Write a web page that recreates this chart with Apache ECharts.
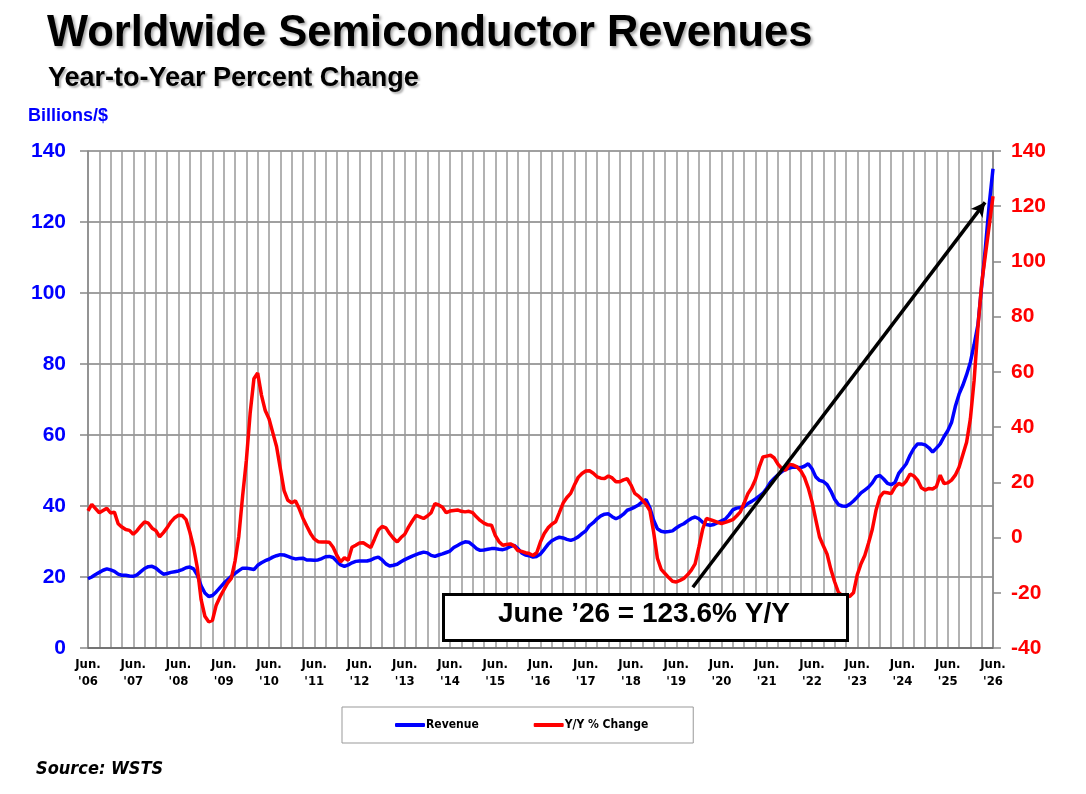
<html>
<head>
<meta charset="utf-8">
<script src="https://cdn.jsdelivr.net/npm/echarts@6/dist/echarts.min.js"></script>
<style>
    html, body { margin: 0; padding: 0; background: #fff; }
    #main { width: 1086px; height: 794px; }
</style>
</head>
<body>
<div id="main"></div>
<script>
    // monthly, Jun '06 .. Jun '26
    var revenue = [
        19.5, 20.0, 20.7, 21.3, 21.9, 22.3, 22.0, 21.6, 20.8, 20.5, 20.5, 20.3,
        20.2, 20.6, 21.5, 22.4, 22.9, 23.0, 22.5, 21.6, 20.8, 21.0, 21.3, 21.5,
        21.7, 22.1, 22.6, 22.8, 22.3, 20.5, 17.5, 15.5, 14.5, 14.8, 15.8, 17.0,
        18.2, 19.2, 20.2, 21.0, 21.8, 22.5, 22.5, 22.3, 22.1, 23.3, 24.0, 24.6,
        25.0, 25.6, 26.0, 26.3, 26.2, 25.8, 25.4, 25.1, 25.2, 25.3, 24.8, 24.8,
        24.7, 24.8, 25.2, 25.7, 25.8, 25.5, 24.4, 23.4, 23.0, 23.4, 24.0, 24.4,
        24.5, 24.5, 24.5, 24.8, 25.3, 25.6, 24.8, 23.7, 23.1, 23.3, 23.6, 24.3,
        24.9, 25.4, 25.9, 26.3, 26.7, 27.0, 26.8, 26.1, 25.8, 26.2, 26.5, 26.9,
        27.3, 28.3, 28.9, 29.5, 29.9, 29.8, 29.0, 28.0, 27.5, 27.6, 27.8, 28.0,
        28.0, 27.8, 27.7, 28.0, 28.6, 28.9, 28.0, 26.8, 26.2, 26.0, 25.6, 25.8,
        26.5, 27.8, 29.2, 30.2, 30.8, 31.2, 31.0, 30.6, 30.3, 30.7, 31.3, 32.2,
        33.0, 34.5, 35.3, 36.4, 37.2, 37.7, 37.8, 37.0, 36.4, 36.9, 37.7, 38.8,
        39.2, 39.7, 40.3, 41.2, 41.8, 39.5, 36.0, 33.6, 32.9, 32.7, 32.8, 33.0,
        33.8, 34.5, 35.0, 35.8, 36.5, 36.9, 36.4, 35.4, 34.8, 34.6, 34.8, 35.3,
        35.8, 36.3, 37.5, 38.9, 39.4, 39.6, 39.8, 40.7, 41.3, 42.0, 42.8, 43.6,
        45.0, 46.7, 47.8, 48.8, 49.7, 50.3, 50.7, 51.0, 50.9, 50.8, 51.2, 51.9,
        50.5, 48.2, 47.2, 46.9, 46.0, 44.2, 41.9, 40.4, 40.0, 39.9, 40.5, 41.4,
        42.5, 43.7, 44.5, 45.3, 46.5, 48.2, 48.6, 47.6, 46.4, 46.0, 46.6, 49.2,
        50.5, 51.9, 54.3, 56.2, 57.5, 57.5, 57.2, 56.4, 55.2, 56.3, 57.5, 59.5,
        61.2, 63.5, 68.0, 71.5, 74.0, 77.0, 80.5, 85.5, 91.0, 102.0, 113.0, 125.0,
        135.0
    ];

    var yoyChange = [
        9.7, 12.0, 10.5, 9.0, 9.8, 10.6, 8.9, 9.2, 5.0, 3.8, 2.9, 2.6,
        1.2, 2.5, 4.2, 5.7, 5.2, 3.4, 2.5, 0.3, 1.8, 3.6, 5.7, 7.2,
        8.1, 8.0, 6.5, 2.0, -3.5, -11.0, -22.5, -28.5, -30.5, -30.0, -24.5, -21.5,
        -19.0, -16.5, -14.8, -8.5, 0.5, 15.0, 28.0, 45.0, 57.5, 59.6, 51.6, 46.0,
        43.0, 38.0, 33.0, 25.0, 17.0, 13.5, 12.6, 13.3, 10.5, 7.0, 4.2, 1.5,
        -0.5, -1.5, -1.6, -1.6, -1.7, -3.5, -6.5, -8.8, -7.3, -8.2, -3.5, -2.8,
        -2.0, -1.9, -2.8, -3.6, -0.5, 2.7, 4.0, 3.5, 1.4, -0.3, -1.6, 0.0,
        1.2, 3.8, 6.0, 8.0, 7.5, 6.9, 7.8, 9.0, 12.3, 11.8, 11.0, 9.0,
        9.6, 9.8, 10.0, 9.5, 9.3, 9.5, 9.0, 7.5, 6.2, 5.2, 4.6, 4.5,
        0.8, -1.5, -2.8, -2.5, -2.3, -3.0, -4.7, -5.0, -5.5, -5.8, -6.5, -5.5,
        -1.5, 1.5, 3.5, 4.8, 5.7, 9.0, 12.5, 14.5, 16.0, 19.0, 21.8, 23.2,
        24.1, 24.2, 23.3, 22.0, 21.5, 21.4, 22.3, 21.6, 20.2, 20.2, 20.9, 21.3,
        19.0, 16.0, 15.0, 13.6, 12.0, 9.8, 2.0, -7.5, -11.5, -13.0, -14.5, -15.8,
        -16.1, -15.5, -14.8, -13.5, -11.8, -9.5, -3.5, 3.0, 6.9, 6.5, 6.0, 5.5,
        5.1, 5.5, 6.0, 6.5, 7.8, 9.3, 12.5, 15.9, 18.0, 21.0, 25.5, 29.2,
        29.5, 29.8, 28.8, 26.5, 25.0, 24.4, 26.5, 26.3, 25.6, 24.2, 21.8, 18.0,
        13.0, 6.5, 0.2, -3.0, -6.0, -11.5, -16.0, -19.8, -21.0, -21.5, -21.3, -20.0,
        -13.5, -9.5, -6.5, -2.0, 3.0, 10.0, 14.7, 16.4, 16.2, 15.9, 18.3, 19.6,
        19.0, 20.5, 23.0, 22.3, 20.8, 18.0, 17.2, 17.8, 17.6, 18.5, 22.6, 19.6,
        19.8, 20.8, 22.6, 25.5, 30.0, 34.5, 43.0, 57.0, 76.0, 92.0, 102.5, 113.0,
        123.6
    ];

    var yearLabels = ['06', '07', '08', '09', '10', '11', '12', '13', '14', '15', '16',
        '17', '18', '19', '20', '21', '22', '23', '24', '25', '26'];

    // arrow from the call-out box up to the last point (month index, Y/Y %)
    var arrowFrom = [160.4, -18];
    var arrowTo = [237.9, 121.4];

    var narrow = "'Liberation Sans Narrow', 'DejaVu Sans Condensed', 'Liberation Sans', sans-serif";
    var arial = "'Liberation Sans', Arial, sans-serif";

    var chart = echarts.init(document.getElementById('main'));

    var option = {
        animation: false,
        backgroundColor: '#fff',
        title: [{
            text: 'Worldwide Semiconductor Revenues',
            left: 42,
            top: 7,
            textStyle: {
                fontFamily: arial,
                fontSize: 43.5,
                fontWeight: 'bold',
                color: '#000',
                textShadowColor: 'rgba(0,0,0,0.35)',
                textShadowBlur: 3,
                textShadowOffsetX: 2,
                textShadowOffsetY: 2
            }
        }, {
            text: 'Year-to-Year Percent Change',
            left: 43,
            top: 60,
            textStyle: {
                fontFamily: arial,
                fontSize: 27,
                fontWeight: 'bold',
                color: '#000',
                textShadowColor: 'rgba(0,0,0,0.3)',
                textShadowBlur: 2,
                textShadowOffsetX: 2,
                textShadowOffsetY: 2
            }
        }],
        legend: {
            left: 342,
            top: 707,
            padding: [12, 45, 12, 53],
            itemGap: 55,
            itemWidth: 30,
            itemHeight: 4,
            borderColor: '#999',
            borderWidth: 1,
            icon: 'roundRect',
            textStyle: {
                fontFamily: narrow,
                fontSize: 12,
                fontWeight: 'bold',
                color: '#000',
                padding: [0, 0, 0, -4]
            },
            data: ['Revenue', 'Y/Y % Change']
        },
        grid: {
            left: 88,
            right: 93,
            top: 151,
            bottom: 146
        },
        xAxis: {
            type: 'value',
            min: 0,
            max: 240,
            interval: 3,
            axisLine: { lineStyle: { color: '#666', width: 1.5 } },
            axisTick: { show: false },
            splitLine: { show: true, lineStyle: { color: '#999', width: 1.5 } },
            axisLabel: {
                margin: 8,
                fontFamily: narrow,
                fontSize: 13,
                fontWeight: 'bold',
                color: '#000',
                lineHeight: 17,
                showMinLabel: true,
                showMaxLabel: true,
                formatter: function (v) {
                    if (v % 12 !== 0) return '';
                    return 'Jun.\n\'' + yearLabels[v / 12];
                }
            }
        },
        yAxis: [{
            type: 'value',
            min: 0,
            max: 140,
            interval: 20,
            position: 'left',
            axisLine: { show: true, lineStyle: { color: '#888', width: 1.5 } },
            axisTick: { show: true, length: 8, lineStyle: { color: '#888', width: 1.5 } },
            splitLine: { show: true, lineStyle: { color: '#808080', width: 1.5 } },
            axisLabel: {
                margin: 22,
                fontFamily: arial,
                fontSize: 21,
                fontWeight: 'bold',
                color: '#0000ff'
            }
        }, {
            type: 'value',
            min: -40,
            max: 140,
            interval: 20,
            position: 'right',
            axisLine: { show: true, lineStyle: { color: '#888', width: 1.5 } },
            axisTick: { show: true, length: 8, lineStyle: { color: '#888', width: 1.5 } },
            splitLine: { show: false },
            axisLabel: {
                margin: 18,
                fontFamily: arial,
                fontSize: 21,
                fontWeight: 'bold',
                color: '#ff0000'
            }
        }],
        series: [{
            name: 'Revenue',
            type: 'line',
            yAxisIndex: 0,
            showSymbol: false,
            symbol: 'none',
            color: '#0000ff',
            lineStyle: { color: '#0000ff', width: 3.5 },
            data: revenue.map(function (v, i) { return [i, v]; }),
            z: 3
        }, {
            name: 'Y/Y % Change',
            type: 'line',
            yAxisIndex: 1,
            showSymbol: false,
            symbol: 'none',
            color: '#ff0000',
            lineStyle: { color: '#ff0000', width: 3.5 },
            data: yoyChange.map(function (v, i) { return [i, v]; }),
            z: 4,
            markLine: {
                silent: true,
                symbol: ['none', 'arrow'],
                symbolSize: [11, 14],
                label: { show: false },
                lineStyle: { color: '#000', width: 3.5, type: 'solid' },
                data: [[{ coord: arrowFrom }, { coord: arrowTo }]],
                z: 6
            }
        }],
        graphic: [{
            type: 'text',
            left: 28,
            top: 107,
            style: {
                text: 'Billions/$',
                font: 'bold 18px ' + arial,
                fill: '#0000ff'
            }
        }, {
            type: 'text',
            left: 36,
            top: 760,
            style: {
                text: 'Source: WSTS',
                font: 'italic bold 18px ' + narrow,
                fill: '#000'
            }
        }, {
            type: 'rect',
            left: 442,
            top: 593,
            z: 10,
            shape: { x: 0, y: 0, width: 404, height: 46 },
            style: {
                fill: '#fff',
                stroke: '#000',
                lineWidth: 3
            }
        }, {
            type: 'text',
            left: 498,
            top: 600,
            z: 11,
            style: {
                text: 'June \u201926 = 123.6% Y/Y',
                font: 'bold 28px ' + arial,
                fill: '#000'
            }
        }]
    };

    chart.setOption(option);
</script>
</body>
</html>
